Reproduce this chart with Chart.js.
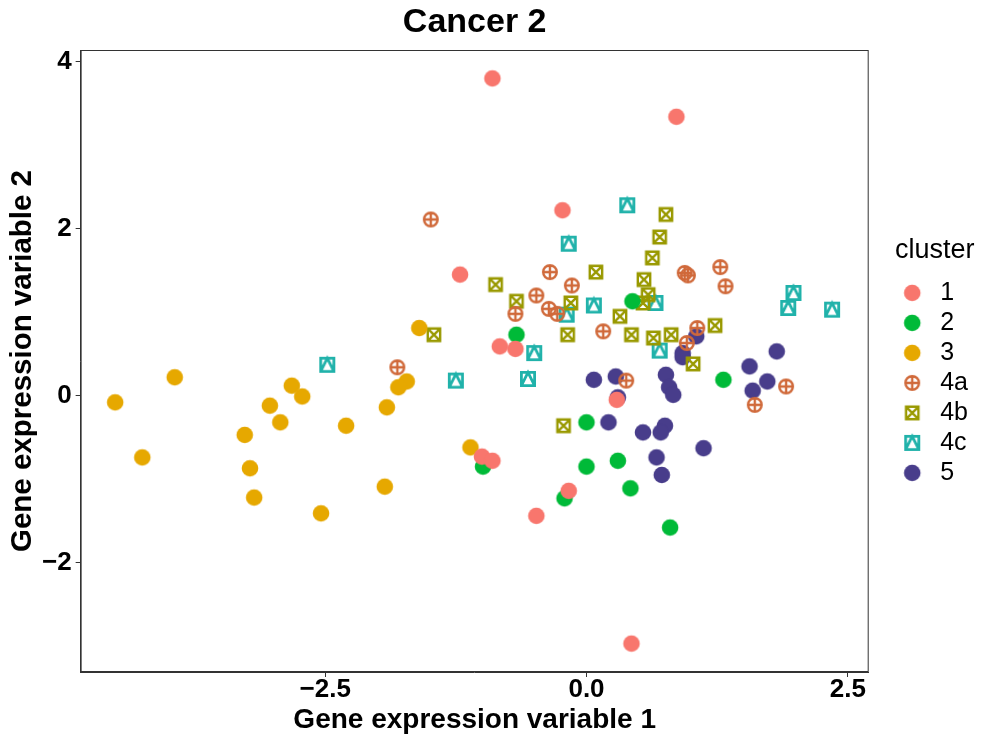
<!DOCTYPE html>
<html>
<head>
<meta charset="utf-8">
<script src="https://cdn.jsdelivr.net/npm/chart.js@4/dist/chart.umd.min.js"></script>
<style>
  html, body { margin: 0; padding: 0; background: #fff; }
  canvas { display: block; }
</style>
</head>
<body>
<canvas id="scatterChart" width="997" height="747"></canvas>
<script>
// ===== DATA =====
const clusterNames = ['1', '2', '3', '4a', '4b', '4c', '5'];

const c1X = [-0.90, 0.86, -0.23, -1.21, -0.83, -0.68, 0.29, -1.00, -0.90, -0.17, -0.48, 0.43];
const c1Y = [3.80, 3.34, 2.22, 1.45, 0.59, 0.56, -0.05, -0.73, -0.78, -1.14, -1.44, -2.97];

const c2X = [-0.67, 0.44, 1.31, 0.00, -0.99, 0.00, 0.30, -0.21, 0.42, 0.80];
const c2Y = [0.73, 1.13, 0.19, -0.32, -0.85, -0.85, -0.78, -1.23, -1.11, -1.58];

const c3X = [-4.51, -3.94, -4.25, -2.82, -2.72, -3.03, -2.93, -3.27, -3.22, -3.18, -2.54, -2.30, -1.91, -1.93, -1.72, -1.80, -1.11, -1.60];
const c3Y = [-0.08, 0.22, -0.74, 0.12, -0.01, -0.12, -0.32, -0.47, -0.87, -1.22, -1.41, -0.36, -0.14, -1.09, 0.17, 0.10, -0.62, 0.81];

const c4aX = [-1.49, -0.35, -0.14, -0.48, -0.36, -0.28, -0.68, 0.16, -1.81, 0.94, 0.97, 1.28, 1.33, 1.06, 0.96, 0.38, 1.91, 1.61];
const c4aY = [2.11, 1.48, 1.32, 1.20, 1.04, 0.98, 0.98, 0.77, 0.34, 1.47, 1.44, 1.54, 1.31, 0.81, 0.63, 0.18, 0.11, -0.11];

const c4bX = [-0.87, -0.67, -0.15, 0.09, 0.32, -1.46, -0.18, 0.76, 0.70, 0.63, 0.55, 0.59, 0.54, 0.43, 0.64, 0.81, 1.23, 1.02, -0.22];
const c4bY = [1.33, 1.13, 1.11, 1.48, 0.95, 0.73, 0.73, 2.17, 1.90, 1.65, 1.39, 1.21, 1.11, 0.73, 0.69, 0.73, 0.84, 0.38, -0.36];

const c4cX = [0.39, -0.17, 0.07, -0.19, -0.50, 0.66, 0.70, 1.98, 1.93, 2.35, -1.25, -0.56, -2.48];
const c4cY = [2.28, 1.82, 1.08, 0.97, 0.51, 1.11, 0.54, 1.23, 1.05, 1.03, 0.18, 0.20, 0.37];

const c5X = [1.82, 1.56, 1.73, 1.59, 0.92, 0.92, 1.05, 0.76, 0.79, 0.83, 0.28, 0.30, 0.21, 0.54, 0.75, 0.71, 1.12, 0.67, 0.72, 0.07];
const c5Y = [0.53, 0.35, 0.17, 0.06, 0.51, 0.46, 0.71, 0.25, 0.10, 0.01, 0.23, -0.02, -0.32, -0.44, -0.36, -0.44, -0.63, -0.74, -0.95, 0.19];

const xTicks = [-2.5, 0, 2.5];
const yTicks = [-2, 0, 2, 4];

// ===== STYLE =====
const FONT = "'Liberation Sans', Arial, sans-serif";
const clusterColors = ['#F8766D', '#00BA38', '#E6A800', '#D0693A', '#999900', '#20B2AA', '#483D8B'];
const clusterShapes = ['dot', 'dot', 'dot', 'circlePlus', 'boxCross', 'boxTriangle', 'dot'];

// R-like plotting symbols drawn once on small canvases
function makeSymbol(kind, color) {
  const size = 22;
  const c = document.createElement('canvas');
  c.width = size; c.height = size;
  const g = c.getContext('2d');
  const m = size / 2;
  g.strokeStyle = color;
  g.fillStyle = color;
  g.lineWidth = 2.4;
  g.beginPath();
  if (kind === 'dot') {
    g.arc(m, m, 8.3, 0, Math.PI * 2);
    g.fill();
  } else if (kind === 'circlePlus') {
    const r = 6.8;
    g.arc(m, m, r, 0, Math.PI * 2);
    g.moveTo(m - r, m); g.lineTo(m + r, m);
    g.moveTo(m, m - r); g.lineTo(m, m + r);
    g.stroke();
  } else if (kind === 'boxCross') {
    const h = 6.2;
    g.rect(m - h, m - h, 2 * h, 2 * h);
    g.moveTo(m - h, m - h); g.lineTo(m + h, m + h);
    g.moveTo(m + h, m - h); g.lineTo(m - h, m + h);
    g.stroke();
  } else if (kind === 'boxTriangle') {
    const h = 6.6;
    g.lineWidth = 2.8;
    g.rect(m - h, m - h, 2 * h, 2 * h);
    g.moveTo(m - h, m + h); g.lineTo(m, m - h); g.lineTo(m + h, m + h);
    g.stroke();
  }
  return c;
}

const xs = [c1X, c2X, c3X, c4aX, c4bX, c4cX, c5X];
const ys = [c1Y, c2Y, c3Y, c4aY, c4bY, c4cY, c5Y];

const datasets = clusterNames.map((name, i) => ({
  label: name,
  data: xs[i].map((x, j) => ({ x, y: ys[i][j] })),
  pointStyle: makeSymbol(clusterShapes[i], clusterColors[i]),
  backgroundColor: clusterColors[i],
  borderColor: clusterColors[i]
}));

// ===== PLUGINS =====
const panelBox = {
  id: 'panelBox',
  afterDraw(chart) {
    const { ctx, chartArea: a } = chart;
    ctx.save();
    ctx.strokeStyle = '#333';
    ctx.lineWidth = 1;
    ctx.strokeRect(a.left + 0.5, a.top + 0.5, a.width - 1, a.height - 1);
    ctx.restore();
  }
};

const plotTitle = {
  id: 'plotTitle',
  afterDraw(chart) {
    const { ctx, chartArea: a } = chart;
    ctx.save();
    ctx.font = 'bold 34px ' + FONT;
    ctx.fillStyle = '#000';
    ctx.textAlign = 'center';
    ctx.textBaseline = 'middle';
    ctx.fillText('Cancer 2', (a.left + a.right) / 2, 23);
    ctx.restore();
  }
};

// ggplot puts the legend a bit away from the panel, near the top of the middle
const legendPlace = {
  id: 'legendPlace',
  afterLayout(chart) {
    const lg = chart.legend;
    const w = lg.right - lg.left;
    lg.left = chart.chartArea.right + 23;
    lg.right = lg.left + w;
    const h = lg.bottom - lg.top;
    lg.top = 237;
    lg.bottom = lg.top + h;
  }
};

// ===== CHART =====
new Chart(document.getElementById('scatterChart'), {
  type: 'scatter',
  data: { datasets },
  options: {
    responsive: false,
    animation: false,
    layout: { padding: { top: 50, left: 5, right: 42, bottom: 13 } },
    plugins: {
      tooltip: { enabled: false },
      legend: {
        position: 'right',
        align: 'start',
        title: {
          display: true,
          text: 'cluster',
          color: '#000',
          font: { family: FONT, size: 27 },
          padding: { top: 0, bottom: 6 }
        },
        labels: {
          usePointStyle: true,
          pointStyleWidth: 31,
          boxHeight: 22,
          color: '#000',
          padding: 5,
          font: { family: FONT, size: 25 }
        }
      }
    },
    scales: {
      x: {
        type: 'linear',
        min: -4.84,
        max: 2.70,
        afterBuildTicks: (scale) => { scale.ticks = xTicks.map(v => ({ value: v })); },
        ticks: {
          color: '#000',
          font: { family: FONT, size: 26, weight: 'bold', lineHeight: 1 },
          padding: 0,
          maxRotation: 0,
          callback: (v) => (v < 0 ? '\u2212' : '') + Math.abs(v).toFixed(1)
        },
        grid: { drawOnChartArea: false, drawTicks: true, tickLength: 5, color: '#333' },
        border: { display: true, color: '#333' },
        title: {
          display: true,
          text: 'Gene expression variable 1',
          color: '#000',
          font: { family: FONT, size: 28, weight: 'bold', lineHeight: 1 },
          padding: { top: 3, bottom: 0 }
        }
      },
      y: {
        type: 'linear',
        min: -3.31,
        max: 4.14,
        afterBuildTicks: (scale) => { scale.ticks = yTicks.map(v => ({ value: v })); },
        ticks: {
          color: '#000',
          font: { family: FONT, size: 26, weight: 'bold', lineHeight: 1 },
          padding: 4,
          callback: (v) => (v < 0 ? '\u2212' : '') + Math.abs(v)
        },
        grid: { drawOnChartArea: false, drawTicks: true, tickLength: 5, color: '#333' },
        border: { display: true, color: '#333' },
        title: {
          display: true,
          text: 'Gene expression variable 2',
          color: '#000',
          font: { family: FONT, size: 29.5, weight: 'bold', lineHeight: 1 },
          padding: { top: 3.5, bottom: 0 }
        }
      }
    }
  },
  plugins: [panelBox, plotTitle, legendPlace]
});
</script>
</body>
</html>
